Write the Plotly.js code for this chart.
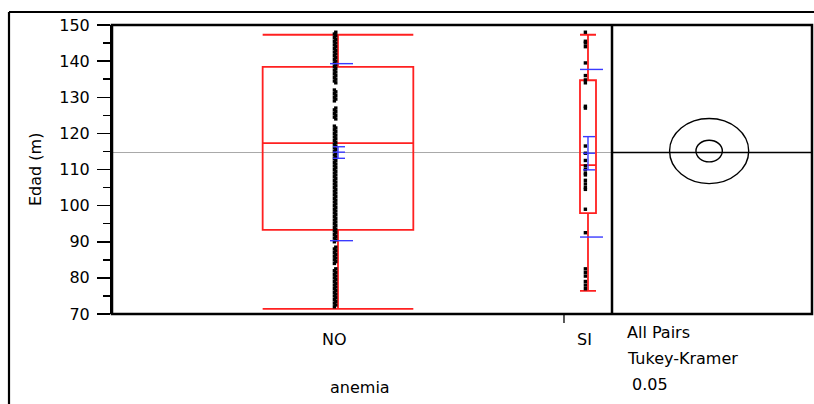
<!DOCTYPE html>
<html><head><meta charset="utf-8">
<script src="https://cdn.plot.ly/plotly-3.0.1.min.js"></script>
<style>html,body{margin:0;padding:0;background:#fff}#chart{width:814px;height:404px}</style>
</head><body><div id="chart"></div>
<script>
// ---- data ----
const categories = ['NO', 'SI'];
const groupN = [273, 29];
const edadNO = [72,72.5,73,73.5,74,74.5,75,75.5,76,76.5,77,77.5,78,78.5,79,79.5,80,80.5,81,81.5,82,82.5,84,84.5,85,85.5,86,86.5,87,87.5,88,88.5,90,90.5,91,91.5,92,92.5,93,93.5,94,94.5,95,95.5,96,96.5,97,97.5,98,98.5,99,99.5,100,100.5,101,101.5,102,102.5,103,103.5,104,104.5,105,105.5,106,106.5,107,107.5,108,108.5,109,109.5,110,110.5,111,111.5,112,112.5,113,113.5,114,114.5,115,115.5,116,116.5,117,117.5,118,118.5,119,119.5,120,120.5,121,121.5,122,124,124.5,125,125.5,126,126.5,127,129,129.5,130,130.5,131,131.5,132,134,134.5,135,135.5,136,136.5,137,137.5,138,138.5,139,139.5,140,140.5,141,141.5,142,142.5,143,143.5,144,144.5,145,145.5,146,146.5,147,147.5,148];
const edadSI = [148,145.5,145,144,139.5,136,134.8,134,127.5,127,116.5,114.5,112.5,111,110,109,108.5,107,106,105,104.5,99,92.5,82.5,81.5,80.5,79,78,77];
const q1 = [93.3, 97.9];
const medians = [117.3, 111.2];
const q3 = [138.4, 134.7];
const whiskerLow = [71.4, 76.4];
const whiskerHigh = [147.3, 147.3];
const means = [114.8, 114.5];
const stdDevs = [24.5, 23.2];
const ciLow = [113.1, 109.9];
const ciHigh = [116.3, 119.1];
const grandMean = 114.7;
const circleCenters = [115.1, 115.1];
const circleRadii = [3.0, 9.0];
const yTicks = [70, 80, 90, 100, 110, 120, 130, 140, 150];
const yTickText = ['70', '80', '90', '100', '110', '120', '130', '140', '150'];
const xTitle = 'anemia';
const yTitle = 'Edad (m)';
const compLabels = ['All Pairs', 'Tukey-Kramer', ' 0.05'];

// ---- layout helpers ----
const W = 814, H = 404, L = 112, R = 2, T = 25, B = 90;
const plotW = W - L - R, plotH = H - T - B;
const mainW = 500;
const split = mainW / plotW;
const px = (x) => (x - L) / plotW;       // pixel x -> paper
const py = (y) => (T + plotH - y) / plotH; // pixel y -> paper
const FONT = 'DejaVu Sans, Arial, sans-serif';

const N = groupN.reduce((a, b) => a + b, 0);
const starts = groupN.map((n, i) => groupN.slice(0, i).reduce((a, b) => a + b, 0));
const centers = groupN.map((n, i) => starts[i] + n / 2);
const unitPerPx = N / mainW;
const values = [edadNO, edadSI];
const dotShifts = [[-3.6, -2.2], [-2.6, -2.6]];

const traces = [];
categories.forEach((c, i) => {
  traces.push({
    type: 'box', x: [centers[i]], q1: [q1[i]], median: [medians[i]], q3: [q3[i]],
    lowerfence: [whiskerLow[i]], upperfence: [whiskerHigh[i]],
    width: groupN[i] / 3, whiskerwidth: 1, boxpoints: false,
    line: { color: '#ff2020', width: 1.8 }, fillcolor: 'rgba(0,0,0,0)',
    hoverinfo: 'skip', showlegend: false, xaxis: 'x', yaxis: 'y'
  });
});
categories.forEach((c, i) => {
  traces.push({
    type: 'scatter', mode: 'markers',
    x: values[i].map((v, k) => centers[i] + dotShifts[i][k % 2] * unitPerPx), y: values[i],
    marker: { symbol: 'square', size: 3.4, color: 'black' },
    hoverinfo: 'skip', showlegend: false, xaxis: 'x', yaxis: 'y'
  });
});
traces.push({ type: 'scatter', mode: 'markers', x: [0], y: [grandMean], marker: { opacity: 0 },
  xaxis: 'x2', yaxis: 'y', hoverinfo: 'skip', showlegend: false });

const BLUE = '#3a3aff';
const shapes = [];
shapes.push({ type: 'line', xref: 'x domain', x0: 0, x1: 1, yref: 'y', y0: grandMean, y1: grandMean,
  line: { color: '#a8a8a8', width: 1 }, layer: 'below' });
shapes.push({ type: 'line', xref: 'x2 domain', x0: 0, x1: 1, yref: 'y', y0: grandMean, y1: grandMean,
  line: { color: 'black', width: 1.3 } });
categories.forEach((c, i) => {
  shapes.push({ type: 'circle', xref: 'x2', yref: 'y', x0: -circleRadii[i], x1: circleRadii[i],
    y0: circleCenters[i] - circleRadii[i], y1: circleCenters[i] + circleRadii[i],
    line: { color: 'black', width: 1.4 } });
  const pl = (y0, y1, x0, x1) => ({ type: 'line', xref: 'x', xsizemode: 'pixel', xanchor: centers[i],
    x0: x0, x1: x1, yref: 'y', y0: y0, y1: y1, line: { color: BLUE, width: 1.4 } });
  shapes.push(pl(means[i] + stdDevs[i], means[i] + stdDevs[i], -8, 15));
  shapes.push(pl(means[i] - stdDevs[i], means[i] - stdDevs[i], -8, 15));
  shapes.push(pl(ciLow[i], ciHigh[i], 0, 0));
  shapes.push(pl(ciLow[i], ciLow[i], -5, 7));
  shapes.push(pl(ciHigh[i], ciHigh[i], -5, 7));
  shapes.push(pl(means[i], means[i], -5, 7));
});
// group boundary tick
shapes.push({ type: 'line', xref: 'x', x0: groupN[0], x1: groupN[0], yref: 'paper', y0: 0, y1: py(323),
  line: { color: 'black', width: 1.3 } });
// frames
shapes.push({ type: 'rect', xref: 'paper', yref: 'paper', x0: 0, x1: 1, y0: 0, y1: 1,
  line: { color: 'black', width: 2.5 } });
shapes.push({ type: 'line', xref: 'paper', yref: 'paper', x0: split, x1: split, y0: 0, y1: 1,
  line: { color: 'black', width: 2.5 } });
shapes.push({ type: 'line', xref: 'paper', yref: 'paper', x0: px(9), x1: px(820), y0: py(12), y1: py(12),
  line: { color: 'black', width: 2.2 } });
shapes.push({ type: 'line', xref: 'paper', yref: 'paper', x0: px(9), x1: px(9), y0: py(12), y1: py(410),
  line: { color: 'black', width: 2.2 } });

const annotations = [];
categories.forEach((c, i) => {
  annotations.push({ text: c, xref: 'x', x: centers[i], xshift: -3, yref: 'paper', y: py(339),
    xanchor: 'center', yanchor: 'middle', showarrow: false, font: { family: FONT, size: 16, color: 'black' } });
});
annotations.push({ text: xTitle, xref: 'paper', x: px(360), yref: 'paper', y: py(387),
  xanchor: 'center', yanchor: 'middle', showarrow: false, font: { family: FONT, size: 16, color: 'black' } });
annotations.push({ text: yTitle, xref: 'paper', x: px(35), yref: 'paper', y: py(170), textangle: -90,
  xanchor: 'center', yanchor: 'middle', showarrow: false, font: { family: FONT, size: 16, color: 'black' } });
[332, 358, 384].forEach((yy, k) => {
  annotations.push({ text: compLabels[k], xref: 'paper', x: px(625), yref: 'paper', y: py(yy),
    xanchor: 'left', yanchor: 'middle', showarrow: false, font: { family: FONT, size: 16, color: 'black' } });
});

const layout = {
  width: W, height: H, margin: { l: L, r: R, t: T, b: B },
  paper_bgcolor: 'white', plot_bgcolor: 'white', showlegend: false, boxmode: 'overlay',
  xaxis: { domain: [0, split], range: [0, N], showticklabels: false, ticks: '', showgrid: false,
    zeroline: false, showline: false, fixedrange: true },
  xaxis2: { domain: [split, 1], anchor: 'y', range: [-22.1, 23.4], showticklabels: false, ticks: '',
    showgrid: false, zeroline: false, showline: false },
  yaxis: { range: [70, 150], tickmode: 'array', tickvals: yTicks, ticktext: yTickText,
    ticks: 'outside', ticklen: 13, tickwidth: 1.5, tickcolor: 'black',
    minor: { dtick: 5, tick0: 70, ticks: 'outside', ticklen: 7, tickwidth: 1.5, tickcolor: 'black', showgrid: false },
    showgrid: false, zeroline: false, showline: true, linewidth: 2, linecolor: 'black',
    tickfont: { family: FONT, size: 16, color: 'black' }, ticklabelstandoff: 4 },
  shapes: shapes, annotations: annotations
};
Plotly.newPlot('chart', traces, layout, { staticPlot: true, displayModeBar: false });
</script></body></html>
